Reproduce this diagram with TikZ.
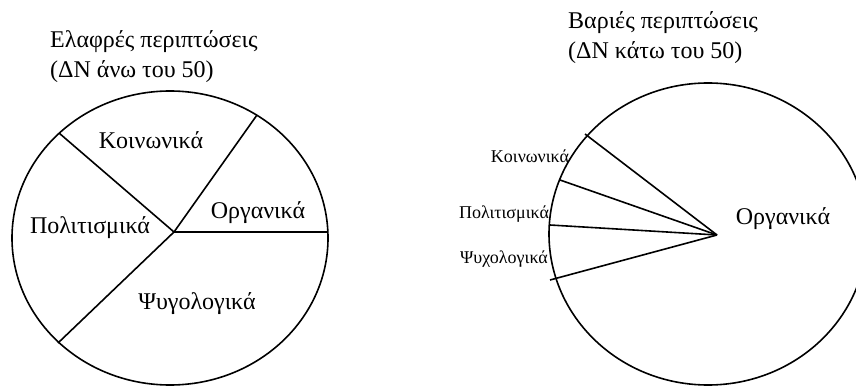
\documentclass[tikz,border=0pt]{standalone}
\usepackage{fontspec}
\setmainfont{Liberation Serif}
\begin{document}
\begin{tikzpicture}[x=1pt, y=-1pt,
    rim/.style={line width=1.6pt},
    spoke/.style={line width=1.6pt},
    title/.style={font=\fontsize{24}{30}\selectfont, inner sep=0pt, anchor=west, align=left},
    lbl/.style={font=\fontsize{24}{28}\selectfont, inner sep=0pt},
    small/.style={font=\fontsize{18}{22}\selectfont, inner sep=0pt}]
    \useasboundingbox (0,0) rectangle (856,387);
    \clip (0,0) rectangle (856,387);

    % Light cases
    \begin{scope}
        \node[title] (lighttitle) at (50,57) {Ελαφρές περιπτώσεις\\(ΔΝ άνω του 50)};
        \draw[rim] (170,238) ellipse [x radius=158, y radius=147];

        % Slices
        \coordinate (lc) at (174,232);
        \coordinate (lorg) at (328,232);
        \coordinate (lsoc) at (257,115);
        \coordinate (lcul) at (59,133);
        \coordinate (lpsy) at (58,343);
        \draw[spoke] (lc) -- (lorg);
        \draw[spoke] (lc) -- (lsoc);
        \draw[spoke] (lc) -- (lcul);
        \draw[spoke] (lc) -- (lpsy);

        \node[lbl] (lsoclabel) at (151,140) {Κοινωνικά};
        \node[lbl] (lorglabel) at (258,213) {Οργανικά};
        \node[lbl] (lcullabel) at (90,228) {Πολιτισμικά};
        \node[lbl] (lpsylabel) at (197,304) {Ψυγολογικά};
    \end{scope}

    % Severe cases
    \begin{scope}
        \node[title] (severetitle) at (568,38) {Βαριές περιπτώσεις\\(ΔΝ κάτω του 50)};
        \draw[rim] (708,234) ellipse [x radius=159, y radius=151];

        % Slices
        \coordinate (rc) at (717,235);
        \coordinate (rsoc) at (585,134);
        \coordinate (rcul) at (560,180);
        \coordinate (rpsy) at (550,225);
        \coordinate (rend) at (550,280);
        \draw[spoke] (rc) -- (rsoc);
        \draw[spoke] (rc) -- (rcul);
        \draw[spoke] (rc) -- (rpsy);
        \draw[spoke] (rc) -- (rend);

        \node[lbl] (rorglabel) at (783,219) {Οργανικά};
        \node[small] (rsoclabel) at (530,156) {Κοινωνικά};
        \node[small] (rcullabel) at (504,214) {Πολιτισμικά};
        \node[small] (rpsylabel) at (504,259) {Ψυχολογικά};
    \end{scope}
\end{tikzpicture}
\end{document}
